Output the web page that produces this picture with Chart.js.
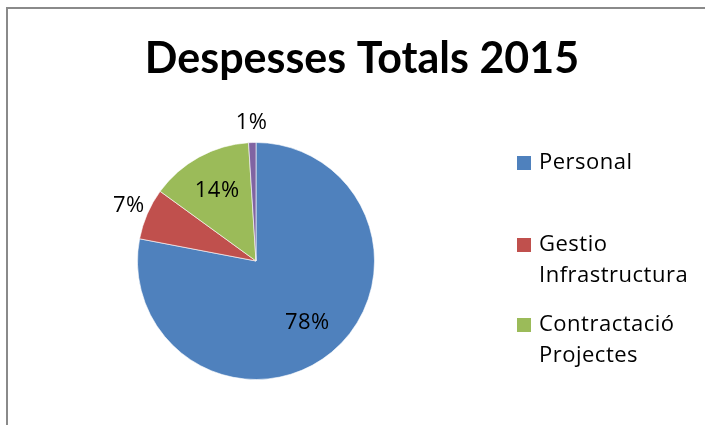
<!DOCTYPE html>
<html>
<head>
<meta charset="utf-8">
<script src="https://cdn.jsdelivr.net/npm/chart.js@4.4.0/dist/chart.umd.min.js"></script>
<style>
  html, body { margin: 0; padding: 0; background: #fff; }
  #wrap { position: relative; width: 705px; height: 425px; overflow: hidden; }
  #frame { position: absolute; left: 6px; top: 7px; width: 760px; height: 460px; border: 2px solid #8a8a8a; }
  canvas { position: absolute; left: 0; top: 0; }
</style>
</head>
<body>
<div id="wrap">
  <div id="frame"></div>
  <canvas id="myChart" width="705" height="425"></canvas>
</div>
<script>
// Data
const categories = ['Personal', 'Gestio Infrastructura', 'Contractació Projectes', ''];
const shares = [78, 7, 14, 1];
const colours = ['#4F81BD', '#C0504D', '#9BBB59', '#8064A2'];
const chartTitle = 'Despesses Totals 2015';

// Title, drawn centred on the frame
const titlePlugin = {
  id: 'excelTitle',
  afterDraw(chart) {
    const c = chart.ctx;
    c.save();
    c.font = 'bold 43px Lato';
    c.fillStyle = '#000';
    c.textAlign = 'center';
    c.textBaseline = 'alphabetic';
    c.fillText(chartTitle, 362, 73);
    c.restore();
  }
};

// Percentage labels: inside for big slices, outside for small ones
const pctPlugin = {
  id: 'pctLabels',
  afterDatasetsDraw(chart) {
    const c = chart.ctx;
    const arcs = chart.getDatasetMeta(0).data;
    const total = shares.reduce((a, b) => a + b, 0);
    c.save();
    c.font = '22px "Open Sans"';
    c.letterSpacing = '0.5px';
    c.fillStyle = '#000';
    c.textAlign = 'center';
    c.textBaseline = 'middle';
    arcs.forEach(function(arc, i) {
      const pct = Math.round(shares[i] / total * 100);
      const mid = (arc.startAngle + arc.endAngle) / 2;
      const d = pct < 10 ? arc.outerRadius + 20 : arc.outerRadius * 0.68;
      c.fillText(pct + '%', arc.x + Math.cos(mid) * d, arc.y + Math.sin(mid) * d);
    });
    c.restore();
  }
};

// Legend with wrapped text, like the spreadsheet one
const legendPlugin = {
  id: 'excelLegend',
  afterDraw(chart) {
    const c = chart.ctx;
    const rowY = [163, 245, 325];
    const lineH = 31;
    c.save();
    c.font = '22px "Open Sans"';
    c.letterSpacing = '0.5px';
    c.textBaseline = 'middle';
    let row = 0;
    categories.forEach(function(name, i) {
      if (name === '') return;
      const y = rowY[row++];
      c.fillStyle = colours[i];
      c.fillRect(517, y - 7, 14, 14);
      c.fillStyle = '#000';
      // wrap words
      let lines = [];
      let cur = '';
      name.split(' ').forEach(function(w) {
        let test = cur ? cur + ' ' + w : w;
        if (cur && c.measureText(test).width > 165) {
          lines.push(cur);
          cur = w;
        } else {
          cur = test;
        }
      });
      lines.push(cur);
      lines.forEach(function(l, k) {
        c.fillText(l, 539, y + k * lineH);
      });
    });
    c.restore();
  }
};

function draw() {
  const ctx = document.getElementById('myChart');
  new Chart(ctx, {
    type: 'pie',
    data: {
      labels: categories,
      datasets: [{
        data: shares,
        backgroundColor: colours,
        borderColor: 'rgba(255,255,255,0.6)',
        borderWidth: 1
      }]
    },
    options: {
      responsive: false,
      animation: false,
      layout: {
        padding: { left: 137, top: 142, right: 330, bottom: 45 }
      },
      plugins: {
        legend: { display: false },
        tooltip: { enabled: false },
        title: { display: false }
      }
    },
    plugins: [titlePlugin, pctPlugin, legendPlugin]
  });
}

Promise.all([
  document.fonts.load('bold 43px Lato'),
  document.fonts.load('22px "Open Sans"')
]).then(draw, draw);
</script>
</body>
</html>
